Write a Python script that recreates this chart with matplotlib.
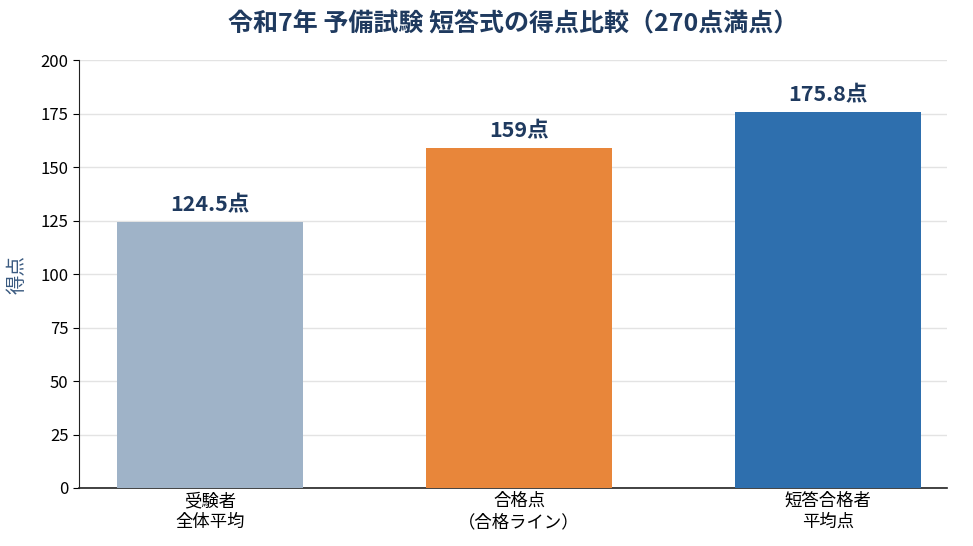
import matplotlib
matplotlib.use("Agg")
import matplotlib.pyplot as plt

plt.rcParams['font.family'] = ['Noto Sans CJK JP', 'DejaVu Sans']

categories = ["受験者\n全体平均", "合格点\n（合格ライン）", "短答合格者\n平均点"]
scores = [124.5, 159, 175.8]
value_labels = ["124.5点", "159点", "175.8点"]
colors = ["#9fb3c8", "#e8863a", "#2e6fae"]
yticks = [0, 25, 50, 75, 100, 125, 150, 175, 200]

navy = "#1f3a5f"

fig = plt.figure(figsize=(9.73, 5.46), dpi=100)
ax = fig.add_axes([79 / 973, 1 - 488 / 546, (947 - 79) / 973, (488 - 60) / 546])

x = range(len(categories))
ax.bar(x, scores, width=0.6, color=colors, zorder=3)
for xi, v, lab in zip(x, scores, value_labels):
    ax.text(xi, v + 3.5, lab, ha='center', va='bottom', fontsize=15.5,
            fontweight='bold', color=navy)

ax.set_xlim(-0.424, 2.385)
ax.set_ylim(0, 200)
ax.set_yticks(yticks)
ax.set_xticks(list(x))
ax.set_xticklabels(categories, fontsize=12.5, linespacing=1.2)
ax.tick_params(axis='y', labelsize=12, length=4)
ax.tick_params(axis='x', length=0, pad=3)
ax.grid(axis='y', color='#e3e3e3', linewidth=1, zorder=0)
for s in ['top', 'right']:
    ax.spines[s].set_visible(False)
ax.spines['left'].set_color('#222222')
ax.spines['bottom'].set_color('#222222')
ax.spines['bottom'].set_linewidth(1.2)

ax.set_ylabel("得点", fontsize=14, color="#3a5a80", labelpad=9)
fig.text(513 / 973, 1 - 24 / 546, "令和7年 予備試験 短答式の得点比較（270点満点）",
         ha='center', va='center', fontsize=18, fontweight='bold', color=navy)

fig.savefig("out.png", dpi=100)
